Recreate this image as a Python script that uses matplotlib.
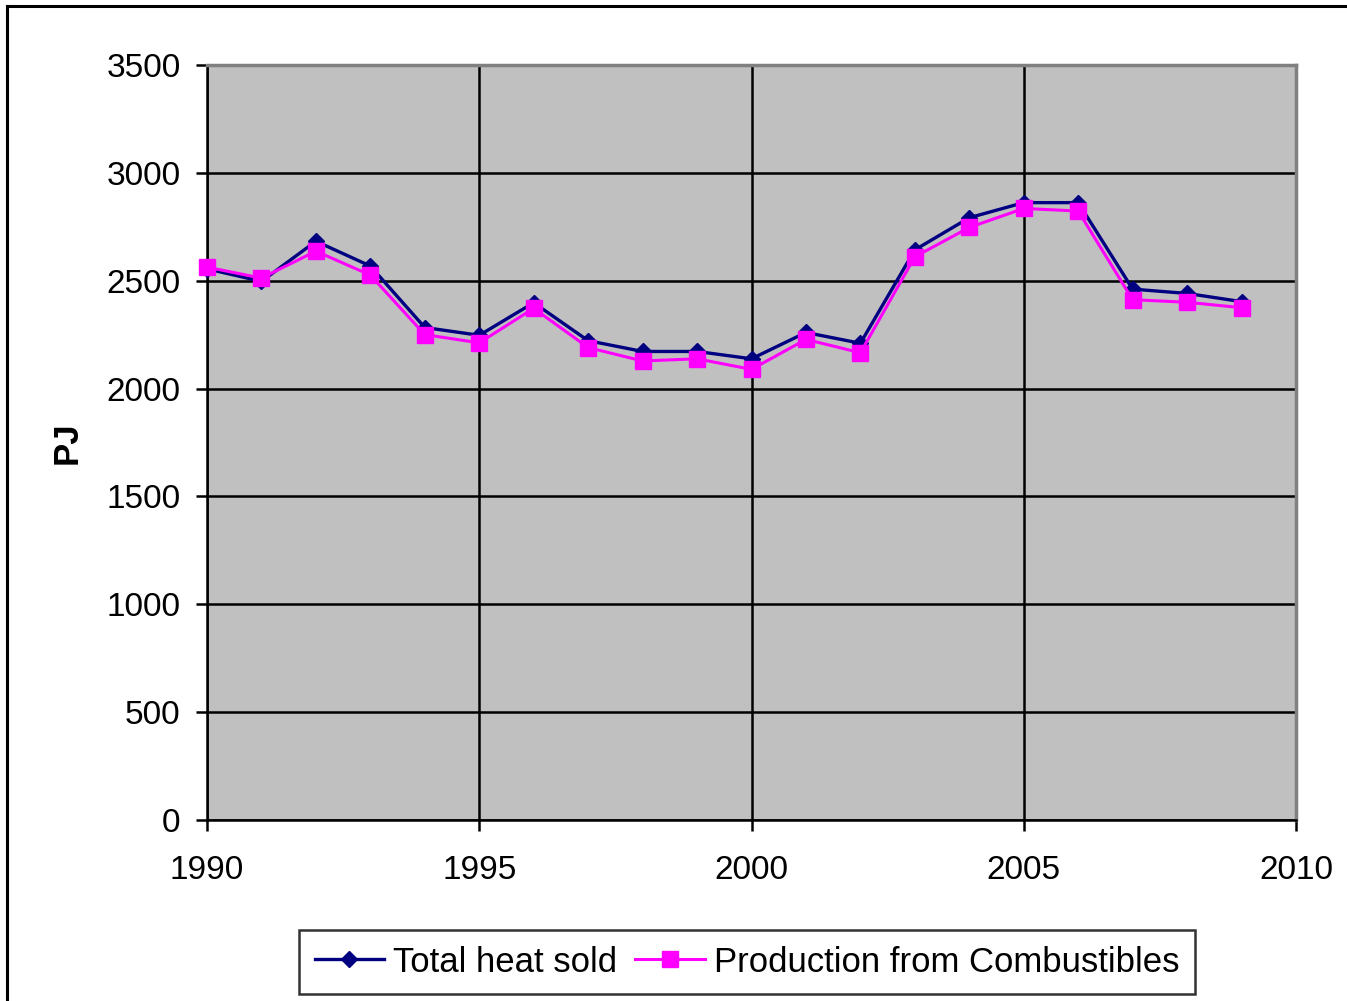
import matplotlib
matplotlib.use("Agg")
import matplotlib.pyplot as plt
from matplotlib.lines import Line2D

plt.rcParams['font.family'] = ['Liberation Sans', 'DejaVu Sans']

years = list(range(1990, 2010))
total_heat = [2555, 2497, 2683, 2568, 2283, 2247, 2398, 2222, 2172, 2172,
              2138, 2260, 2210, 2643, 2792, 2862, 2862, 2461, 2441, 2403]
combustibles = [2563, 2512, 2637, 2526, 2250, 2212, 2372, 2190, 2128, 2138,
                2089, 2228, 2166, 2611, 2747, 2835, 2823, 2412, 2400, 2375]
x_ticks = [1990, 1995, 2000, 2005, 2010]
y_ticks = [0, 500, 1000, 1500, 2000, 2500, 3000, 3500]

W, H = 1347, 1001
fig = plt.figure(figsize=(W / 100, H / 100), dpi=100)
ax = fig.add_axes([207 / W, 1 - 820 / H, (1296 - 207) / W, (820 - 65) / H])
ax.set_facecolor('#C0C0C0')

ax.plot(years, total_heat, color='#000080', lw=2.4, marker='D', ms=8.5,
        label='Total heat sold', zorder=3, clip_on=False)
ax.plot(years, combustibles, color='#FF00FF', lw=2.2, marker='s', ms=11,
        label='Production from Combustibles', zorder=4, clip_on=False)

ax.set_xlim(1990, 2010)
ax.set_ylim(0, 3500)
ax.set_xticks(x_ticks)
ax.set_yticks(y_ticks)
ax.grid(True, color='black', lw=1.8, zorder=1)
ax.set_axisbelow(True)
ax.tick_params(axis='both', direction='out', length=8, width=1.8,
               labelsize=24, color='black')
ax.tick_params(axis='y', pad=11)
ax.tick_params(axis='x', pad=17)

for side in ['left', 'bottom']:
    ax.spines[side].set_color('black')
    ax.spines[side].set_linewidth(1.8)
for side in ['right', 'top']:
    ax.spines[side].set_color('#808080')
    ax.spines[side].set_linewidth(2.5)

ax.set_ylabel('PJ', fontsize=25, fontweight='bold')
ax.yaxis.set_label_coords(-0.113, 0.5)

# outer chart border (only left and top visible)
fig.add_artist(Line2D([7 / W, 7 / W], [0, 1 - 6 / H], color='black', lw=2.2))
fig.add_artist(Line2D([7 / W, 1], [1 - 6 / H, 1 - 6 / H], color='black', lw=2.2))

leg = fig.legend(loc='center', bbox_to_anchor=(747 / W, 1 - 962 / H), ncol=2,
                 fontsize=25, frameon=True, fancybox=False, edgecolor='black',
                 handlelength=2.0, handletextpad=0.26, columnspacing=0.52,
                 borderpad=0.45)
leg.get_frame().set_linewidth(1.8)

fig.savefig('out.png', dpi=100, facecolor='white')
